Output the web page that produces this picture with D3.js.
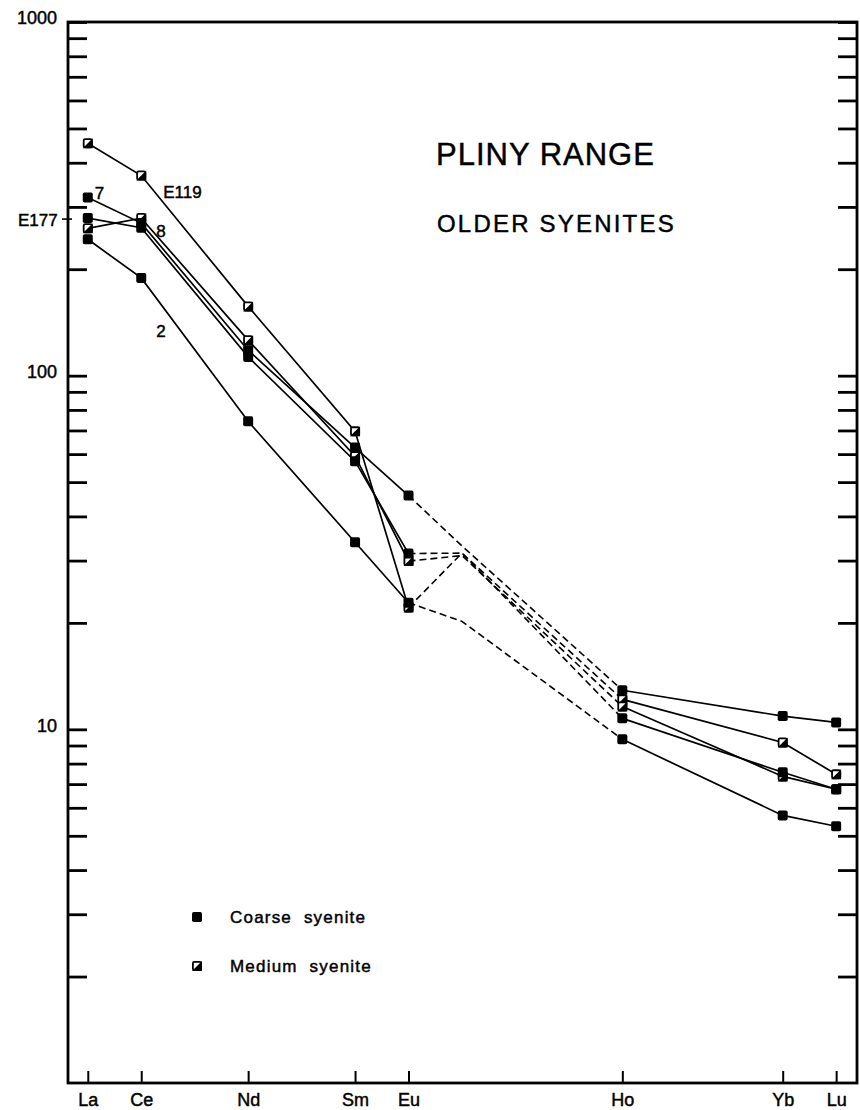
<!DOCTYPE html>
<html>
<head>
<meta charset="utf-8">
<script src="https://cdn.jsdelivr.net/npm/d3@7"></script>
<style>
  body { margin: 0; background: #fff; }
  svg { display: block; }
  text { font-family: "Liberation Sans", Arial, sans-serif; fill: #000; stroke: #000; stroke-width: 0.45px; }
</style>
</head>
<body>
<svg id="chart" width="860" height="1110"></svg>
<script>
// Rare-earth elements on the x axis, spaced by atomic number
const elements = ["La", "Ce", "Nd", "Sm", "Eu", "Ho", "Yb", "Lu"];
const atomicNumbers = [57, 58, 60, 62, 63, 67, 70, 71];
const gdNumber = 64; // Gd not analysed: estimated point on the dashed Eu–Ho segment

// Chondrite-normalised abundances per sample
const sampleNames = ["E119", "8", "7", "E177", "2"];
const sampleTypes = ["medium", "medium", "coarse", "coarse", "coarse"];
const sampleE119 = [454, 368, 157, 69.6, 22.1, 12.15, 9.18, 7.46];
const sample8    = [261, 279, 126, 59.2, 29.9, 11.6, 7.36, 6.77];
const sample7    = [319, 270, 118, 62.6, 45.8, 12.9, 10.9, 10.46];
const sampleE177 = [279, 262, 113, 57.3, 31.4, 10.74, 7.56, 6.77];
const sample2    = [243, 189, 74.3, 33.8, 22.8, 9.37, 5.71, 5.32];
const gdEstimates = [31.5, 31, 33, 31.5, 20.2];

const yTickValues = [2,3,4,5,6,7,8,9,10,20,30,40,50,60,70,80,90,100,200,300,400,500,600,700,800,900,1000];
const yLabelValues = [10, 100, 1000];

const legendLabels = ["Coarse syenite", "Medium syenite"];
const legendTypes = ["coarse", "medium"];
const titleLines = ["PLINY RANGE", "OLDER SYENITES"];

const seriesValues = [sampleE119, sample8, sample7, sampleE177, sample2];
const series = sampleNames.map((name, i) => ({
  name, type: sampleTypes[i], gd: gdEstimates[i],
  points: seriesValues[i].map((v, j) => ({ z: atomicNumbers[j], v }))
}));

// Frame
const frame = { left: 68, right: 857, top: 22, bottom: 1083 };
const svg = d3.select("#chart");

const x = d3.scaleLinear().domain([56.63, 71.39]).range([frame.left, frame.right]);
const y = d3.scaleLog().domain([1, 1000]).range([frame.bottom, frame.top]);

// Left axis: inward ticks, labels only at decades
const yAxisLeft = d3.axisLeft(y)
  .tickValues(yTickValues)
  .tickSizeInner(-19).tickSizeOuter(0)
  .tickPadding(11)
  .tickFormat(d => yLabelValues.includes(d) ? String(d) : "");
const gl = svg.append("g").attr("transform", `translate(${frame.left},0)`).call(yAxisLeft);
gl.select(".domain").remove();
gl.selectAll(".tick line").attr("stroke", "#000").attr("stroke-width", 2.8);
gl.selectAll(".tick text").attr("font-size", 18).attr("dy", "0.1em")
  .attr("font-family", "'Liberation Sans', Arial, sans-serif");

// Right axis mirrors the minor ticks
const yAxisRight = d3.axisRight(y)
  .tickValues(yTickValues)
  .tickSizeInner(-19).tickSizeOuter(0)
  .tickFormat("");
const gr = svg.append("g").attr("transform", `translate(${frame.right},0)`).call(yAxisRight);
gr.select(".domain").remove();
gr.selectAll(".tick line").attr("stroke", "#000").attr("stroke-width", 2.8);

// Bottom axis: element names
const xAxis = d3.axisBottom(x)
  .tickValues(atomicNumbers)
  .tickSizeInner(-12).tickSizeOuter(0)
  .tickPadding(10)
  .tickFormat((d, i) => elements[i]);
const gb = svg.append("g").attr("transform", `translate(0,${frame.bottom})`).call(xAxis);
gb.select(".domain").remove();
gb.selectAll(".tick line").attr("stroke", "#000").attr("stroke-width", 2);
gb.selectAll(".tick text").attr("font-size", 18)
  .attr("font-family", "'Liberation Sans', Arial, sans-serif");

// Plot frame
svg.append("rect")
  .attr("x", frame.left).attr("y", frame.top)
  .attr("width", frame.right - frame.left).attr("height", frame.bottom - frame.top)
  .attr("fill", "none").attr("stroke", "#000").attr("stroke-width", 2.8);

// Lines
const line = d3.line().x(d => x(d.z)).y(d => y(d.v));
const gLines = svg.append("g").attr("fill", "none").attr("stroke", "#000");
series.forEach(s => {
  gLines.append("path").attr("d", line(s.points.slice(0, 5))).attr("stroke-width", 1.7);
  gLines.append("path").attr("d", line(s.points.slice(5))).attr("stroke-width", 1.7);
  const dashed = [s.points[4], { z: gdNumber, v: s.gd }, s.points[5]];
  gLines.append("path").attr("d", line(dashed))
    .attr("stroke-width", 1.6).attr("stroke-dasharray", "7,4");
});

// Markers
function drawMarker(g, cx, cy, type) {
  const h = 5;
  if (type === "coarse") {
    g.append("rect").attr("x", cx - h).attr("y", cy - h)
      .attr("width", 2 * h).attr("height", 2 * h).attr("rx", 1.8)
      .attr("fill", "#000");
  } else {
    g.append("rect").attr("x", cx - h + 0.9).attr("y", cy - h + 0.9)
      .attr("width", 2 * h - 1.8).attr("height", 2 * h - 1.8).attr("rx", 1.4)
      .attr("fill", "#fff").attr("stroke", "#000").attr("stroke-width", 1.8);
    g.append("path")
      .attr("d", `M${cx + h},${cy - h}L${cx + h},${cy + h}L${cx - h},${cy + h}Z`)
      .attr("fill", "#000");
  }
}
const gMarks = svg.append("g");
series.forEach(s => {
  s.points.forEach(p => drawMarker(gMarks, x(p.z), y(p.v), s.type));
});

// Sample labels
const gLab = svg.append("g").attr("font-size", 17);
gLab.append("text").attr("x", x(57) + 7).attr("y", y(sample7[0]) + 2).text(sampleNames[2]);
gLab.append("text").attr("x", x(58) + 22).attr("y", y(sampleE119[1]) + 22).text(sampleNames[0]);
gLab.append("text").attr("x", 18).attr("y", y(sampleE177[0]) + 8).text(sampleNames[3]);
gLab.append("line").attr("x1", 62).attr("x2", 72)
  .attr("y1", y(sampleE177[0]) + 1).attr("y2", y(sampleE177[0]) + 1)
  .attr("stroke", "#000").attr("stroke-width", 1.6);
gLab.append("text").attr("x", x(58) + 15).attr("y", y(sample8[1]) + 19).text(sampleNames[1]);
gLab.append("text").attr("x", x(58) + 15).attr("y", y(sample2[1]) + 59).text(sampleNames[4]);

// Title
svg.append("text").attr("x", 436).attr("y", 165).attr("font-size", 31)
  .attr("letter-spacing", 1).text(titleLines[0]);
svg.append("text").attr("x", 437).attr("y", 232).attr("font-size", 24)
  .attr("letter-spacing", 2.2).text(titleLines[1]);

// Legend
const gLeg = svg.append("g");
legendLabels.forEach((lab, i) => {
  const ly = 917 + i * 49;
  drawMarker(gLeg, 197, ly, legendTypes[i]);
  gLeg.append("text").attr("x", 230).attr("y", ly + 6)
    .attr("font-size", 17).attr("letter-spacing", 1.2).attr("word-spacing", 6)
    .text(lab);
});
</script>
</body>
</html>
